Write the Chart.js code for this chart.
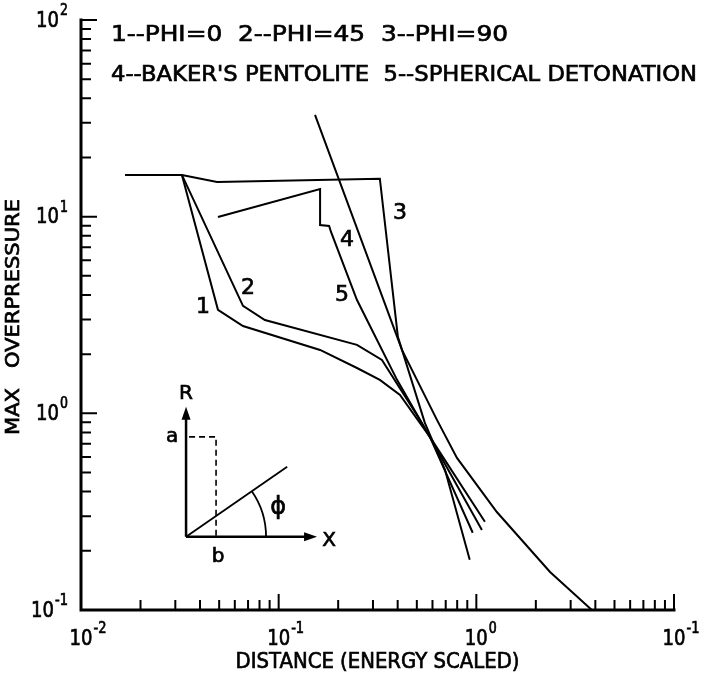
<!DOCTYPE html>
<html>
<head>
<meta charset="utf-8">
<script src="https://cdn.jsdelivr.net/npm/chart.js@4/dist/chart.umd.min.js"></script>
<style>
  html, body { margin: 0; background: #fff; }
</style>
</head>
<body>
<canvas id="blast_chart" width="704" height="680"></canvas>
<script>
// 1 -- PHI = 0
const phi0Dist = [0.0167, 0.0324, 0.0493, 0.0660, 0.162, 0.249, 0.325, 0.411, 0.582, 0.959];
const phi0Press = [16.3, 16.3, 3.36, 2.78, 2.10, 1.70, 1.48, 1.24, 0.759, 0.247];
// 2 -- PHI = 45
const phi45Dist = [0.0167, 0.0324, 0.0660, 0.0852, 0.249, 0.333, 0.519, 0.582, 1.105];
const phi45Press = [16.3, 16.3, 3.52, 2.98, 2.23, 1.87, 0.926, 0.759, 0.281];
// 3 -- PHI = 90
const phi90Dist = [0.0167, 0.0324, 0.0488, 0.325, 0.401, 0.549, 0.694, 0.926];
const phi90Press = [16.3, 16.3, 15.0, 15.6, 2.45, 0.894, 0.516, 0.180];
// 4 -- Baker's pentolite
const pentoliteDist = [0.1527, 0.4205, 0.632, 0.798, 1.27, 2.36, 3.84];
const pentolitePress = [32.9, 2.10, 0.926, 0.593, 0.315, 0.156, 0.1];
// 5 -- spherical detonation
const sphereDist = [0.0493, 0.162, 0.162, 0.180, 0.184, 0.249, 0.397, 0.582, 1.067];
const spherePress = [9.97, 13.8, 9.07, 8.97, 8.36, 3.77, 1.48, 0.759, 0.255];

// curve numbers written beside the lines
const curveTags = ['1', '2', '3', '4', '5'];
const curveTagDist = [0.0414, 0.0699, 0.411, 0.2215, 0.209];
const curveTagPress = [3.47, 4.34, 10.4, 7.61, 4.0];

// axis labels (the last x label is printed as 10^-1 on the original sheet)
const xTickValues = [0.01, 0.1, 1, 10];
const xTickExps = ['-2', '-1', '0', '-1'];
const yTickValues = [0.1, 1, 10, 100];
const yTickExps = ['-1', '0', '1', '2'];

const legendLines = ['1--PHI=0  2--PHI=45  3--PHI=90', "4--BAKER'S PENTOLITE  5--SPHERICAL DETONATION"];

// corner of the little geometry sketch, in data units
const sketchOrigin = [0.034, 0.2355];

const FONT = '"DejaVu Sans", sans-serif';

function toPoints(xs, ys) {
  return xs.map((x, i) => ({ x: x, y: ys[i] }));
}

function curve(label, xs, ys) {
  return {
    label: label,
    data: toPoints(xs, ys),
    showLine: true,
    borderColor: '#000',
    borderWidth: 2,
    pointRadius: 0,
    tension: 0,
    fill: false
  };
}

// lettering: text stretched or squeezed to a given width, slightly heavy
function letter(c, text, x, y, width, size, align) {
  c.font = size + 'px ' + FONT;
  const w = c.measureText(text).width;
  const k = width ? width / w : 1;
  const left = align === 'center' ? x - w * k / 2 : align === 'right' ? x - w * k : x;
  c.save();
  c.translate(left, y);
  c.scale(k, 1);
  c.textAlign = 'left';
  c.textBaseline = 'middle';
  c.lineWidth = 0.7;
  c.fillText(text, 0, 0);
  c.strokeText(text, 0, 0);
  c.restore();
}

function drawPow(c, x, y, exp, anchor) {
  const w10 = 23;
  const we = exp.length > 1 ? 13 : 8;
  const left = anchor === 'right' ? x - w10 - we - 1 : x - w10 / 2;
  letter(c, '10', left, y, w10, 22, 'left');
  letter(c, exp, left + w10 + 1, y - 10, we, 15, 'left');
}

function arrowHead(c, x, y, dx, dy) {
  const len = 13, half = 4.5;
  const px = -dy, py = dx;
  c.beginPath();
  c.moveTo(x, y);
  c.lineTo(x - dx * len + px * half, y - dy * len + py * half);
  c.lineTo(x - dx * len - px * half, y - dy * len - py * half);
  c.closePath();
  c.fill();
}

const figureInk = {
  id: 'figureInk',
  afterDatasetsDraw(chart) {
    const c = chart.ctx;
    const xs = chart.scales.x, ys = chart.scales.y;
    const a = chart.chartArea;
    c.save();
    c.strokeStyle = '#000';
    c.fillStyle = '#000';

    // axes
    c.lineWidth = 3;
    c.lineCap = 'square';
    c.beginPath();
    c.moveTo(a.left, a.top);
    c.lineTo(a.left, a.bottom);
    c.lineTo(a.right, a.bottom);
    c.stroke();

    // inward ticks, 2..9 in each decade
    c.lineWidth = 2;
    c.lineCap = 'butt';
    c.beginPath();
    for (let k = -1; k <= 2; k++) {
      for (let m = 1; m <= 9; m++) {
        const v = m * Math.pow(10, k);
        if (v < 0.1 || v > 100) continue;
        const py = ys.getPixelForValue(v);
        const len = m === 1 ? 16 : 10;
        c.moveTo(a.left, py);
        c.lineTo(a.left + len, py);
      }
    }
    for (let k = -2; k <= 1; k++) {
      for (let m = 1; m <= 9; m++) {
        const v = m * Math.pow(10, k);
        if (v < 0.01 || v > 10) continue;
        const px = xs.getPixelForValue(v);
        const len = m === 1 ? 16 : 10;
        c.moveTo(px, a.bottom);
        c.lineTo(px, a.bottom - len);
      }
    }
    c.stroke();

    // tick labels
    yTickValues.forEach((v, i) => drawPow(c, a.left - 13, ys.getPixelForValue(v) + 1, yTickExps[i], 'right'));
    xTickValues.forEach((v, i) => drawPow(c, xs.getPixelForValue(v), a.bottom + 29, xTickExps[i], 'center'));

    // axis titles
    letter(c, 'DISTANCE (ENERGY SCALED)', (a.left + a.right) / 2, 663, 284, 21, 'center');
    c.save();
    c.translate(14, 317);
    c.rotate(-Math.PI / 2);
    letter(c, 'MAX   OVERPRESSURE', 0, 0, 236, 20, 'center');
    c.restore();

    // legend text
    letter(c, legendLines[0], 111, 35, 397, 22, 'left');
    letter(c, legendLines[1], 111, 75, 586, 22, 'left');

    // curve numbers
    curveTags.forEach((t, i) => {
      letter(c, t, xs.getPixelForValue(curveTagDist[i]), ys.getPixelForValue(curveTagPress[i]), 0, 22, 'center');
    });

    // geometry sketch: R and X axes, ray at angle phi
    const ox = xs.getPixelForValue(sketchOrigin[0]);
    const oy = ys.getPixelForValue(sketchOrigin[1]);
    c.lineWidth = 2.5;
    c.beginPath();
    c.moveTo(ox, oy);
    c.lineTo(ox, oy - 120);
    c.moveTo(ox, oy);
    c.lineTo(ox + 122, oy);
    c.stroke();
    arrowHead(c, ox, oy - 130, 0, -1);
    arrowHead(c, ox + 131, oy, 1, 0);

    c.lineWidth = 1.8;
    const ang = 34.7 * Math.PI / 180;
    c.beginPath();
    c.moveTo(ox, oy);
    c.lineTo(ox + 123 * Math.cos(ang), oy - 123 * Math.sin(ang));
    c.stroke();
    c.beginPath();
    c.arc(ox, oy, 80, -ang, 0);
    c.stroke();

    c.setLineDash([6, 4]);
    c.lineWidth = 1.6;
    c.beginPath();
    c.moveTo(ox + 3, oy - 100);
    c.lineTo(ox + 30, oy - 100);
    c.lineTo(ox + 30, oy);
    c.stroke();
    c.setLineDash([]);

    letter(c, 'R', ox, oy - 143, 0, 20, 'center');
    letter(c, 'a', ox - 14, oy - 100, 0, 20, 'center');
    letter(c, 'b', ox + 32, oy + 20, 0, 20, 'center');
    letter(c, 'X', ox + 143, oy + 4, 0, 20, 'center');
    letter(c, '\u03D5', ox + 92, oy - 29, 0, 24, 'center');

    c.restore();
  }
};

new Chart(document.getElementById('blast_chart'), {
  type: 'scatter',
  data: {
    datasets: [
      curve('1--PHI=0', phi0Dist, phi0Press),
      curve('2--PHI=45', phi45Dist, phi45Press),
      curve('3--PHI=90', phi90Dist, phi90Press),
      curve("4--BAKER'S PENTOLITE", pentoliteDist, pentolitePress),
      curve('5--SPHERICAL DETONATION', sphereDist, spherePress)
    ]
  },
  options: {
    responsive: false,
    animation: false,
    devicePixelRatio: 1,
    layout: { padding: { left: 81, right: 30, top: 20, bottom: 70 } },
    plugins: {
      legend: { display: false },
      tooltip: { enabled: false }
    },
    scales: {
      x: { type: 'logarithmic', min: 0.01, max: 10, display: false },
      y: { type: 'logarithmic', min: 0.1, max: 100, display: false }
    }
  },
  plugins: [figureInk]
});
</script>
</body>
</html>
